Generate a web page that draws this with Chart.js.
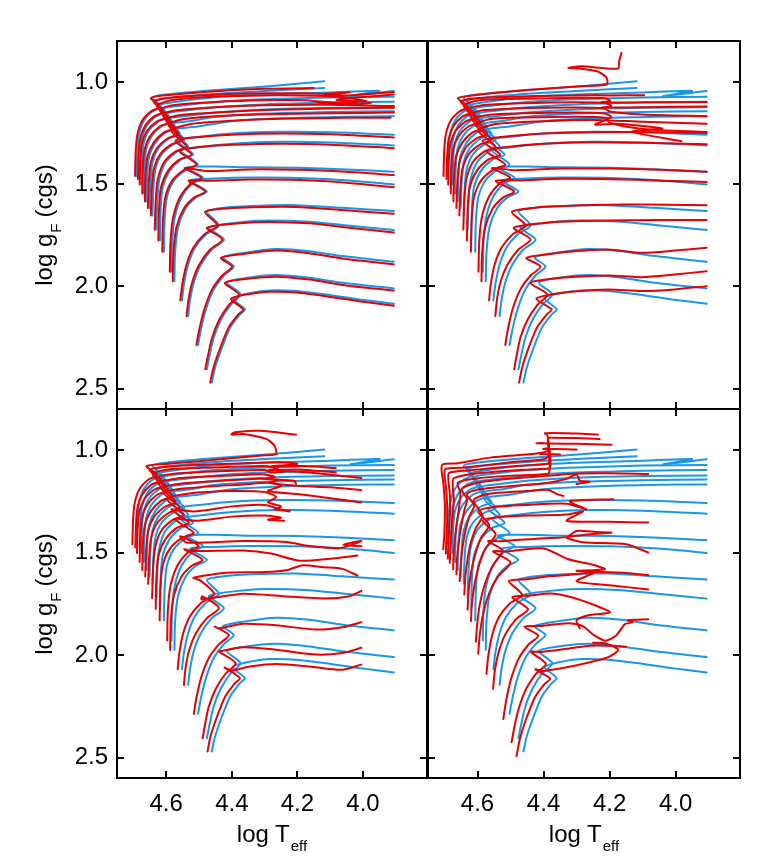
<!DOCTYPE html>
<html><head><meta charset="utf-8">
<script src="https://cdn.jsdelivr.net/npm/chart.js@4.4.0/dist/chart.umd.min.js"></script>
<style>
html,body{margin:0;padding:0;background:#fff;}
#wrap{position:relative;width:779px;height:865px;overflow:hidden;font-family:"Liberation Sans",Arial,Helvetica,sans-serif;background:#fff;}
canvas{position:absolute;left:0;top:0;}
.t{position:absolute;font-size:24px;color:#000;white-space:nowrap;line-height:1;transform:translate(-50%,-50%);}
.t.rot{transform:translate(-50%,-50%) rotate(-90deg);}
.t sub{font-size:15px;vertical-align:baseline;position:relative;top:9px;margin-left:1px;}
.t.rot sub{margin-right:6px;}
</style></head><body>
<div id="wrap">
<canvas id="c0" width="779" height="865"></canvas>
<canvas id="c1" width="779" height="865"></canvas>
<canvas id="c2" width="779" height="865"></canvas>
<canvas id="c3" width="779" height="865"></canvas>
<div class="t rot" style="left:44px;top:225px;">log g<sub>F</sub>(cgs)</div>
<div class="t rot" style="left:44px;top:594px;">log g<sub>F</sub>(cgs)</div>
<div class="t" style="left:272px;top:834px;">log T<sub>eff</sub></div>
<div class="t" style="left:584px;top:834px;">log T<sub>eff</sub></div>
</div>
<script>
// ---- tick values ----
const xTicks = [4.6, 4.4, 4.2, 4.0];
const yTicks = [1.0, 1.5, 2.0, 2.5];

// ---- blue tracks (same in every panel): flat [logT, logg, ...] ----
const blueTracks = [
[4.690,1.460, 4.688,1.341, 4.683,1.258, 4.668,1.189, 4.642,1.145, 4.615,1.121, 4.642,1.077, 4.603,1.062, 4.436,1.038, 4.285,1.021, 4.118,0.997],
[4.681,1.475, 4.679,1.360, 4.674,1.277, 4.659,1.214, 4.633,1.170, 4.603,1.145, 4.633,1.096, 4.582,1.077, 4.436,1.057, 4.285,1.043, 4.118,1.030],
[4.676,1.502, 4.674,1.385, 4.669,1.302, 4.653,1.238, 4.624,1.194, 4.591,1.170, 4.624,1.116, 4.564,1.096, 4.450,1.075, 4.300,1.062, 4.100,1.052, 3.950,1.044, 4.038,1.070, 3.906,1.045],
[4.668,1.546, 4.666,1.419, 4.661,1.331, 4.645,1.267, 4.615,1.218, 4.582,1.194, 4.615,1.135, 4.552,1.116, 4.450,1.098, 4.300,1.085, 4.100,1.076, 3.906,1.073],
[4.660,1.585, 4.658,1.458, 4.652,1.365, 4.633,1.297, 4.603,1.248, 4.570,1.223, 4.606,1.160, 4.539,1.140, 4.450,1.124, 4.300,1.110, 4.100,1.101, 3.906,1.097],
[4.651,1.617, 4.648,1.492, 4.642,1.394, 4.624,1.326, 4.591,1.277, 4.558,1.253, 4.597,1.184, 4.527,1.165, 4.450,1.150, 4.300,1.135, 4.100,1.127, 3.906,1.124],
[4.642,1.653, 4.639,1.526, 4.633,1.429, 4.614,1.355, 4.579,1.306, 4.545,1.282, 4.588,1.209, 4.515,1.189, 4.450,1.170, 4.300,1.155, 4.100,1.147, 3.906,1.144],
[4.630,1.722, 4.627,1.580, 4.621,1.478, 4.602,1.394, 4.567,1.341, 4.533,1.316, 4.579,1.238, 4.503,1.218, 4.400,1.192, 4.250,1.178, 4.050,1.170, 3.906,1.168],
[4.619,1.776, 4.617,1.629, 4.611,1.517, 4.589,1.434, 4.555,1.380, 4.518,1.355, 4.567,1.287, 4.491,1.267, 4.400,1.252, 4.250,1.244, 4.100,1.246, 3.906,1.258],
[4.607,1.831, 4.605,1.683, 4.598,1.565, 4.576,1.482, 4.539,1.429, 4.503,1.404, 4.555,1.336, 4.479,1.316, 4.400,1.302, 4.250,1.293, 4.100,1.296, 3.906,1.311],
[4.584,1.929, 4.582,1.785, 4.574,1.663, 4.552,1.561, 4.520,1.497, 4.488,1.468, 4.539,1.419, 4.461,1.414, 4.350,1.418, 4.200,1.420, 4.050,1.428, 3.906,1.440],
[4.575,1.975, 4.573,1.839, 4.564,1.712, 4.541,1.619, 4.509,1.565, 4.476,1.536, 4.527,1.482, 4.452,1.473, 4.345,1.468, 4.194,1.470, 4.042,1.482, 3.906,1.502],
[4.552,2.069, 4.546,1.990, 4.533,1.893, 4.512,1.810, 4.479,1.746, 4.439,1.702, 4.476,1.634, 4.400,1.612, 4.300,1.605, 4.204,1.603, 4.063,1.616, 3.906,1.632],
[4.533,2.146, 4.527,2.064, 4.515,1.976, 4.494,1.893, 4.461,1.820, 4.424,1.771, 4.470,1.712, 4.360,1.684, 4.285,1.678, 4.164,1.684, 4.063,1.700, 3.906,1.725],
[4.503,2.287, 4.494,2.210, 4.479,2.113, 4.455,2.015, 4.424,1.947, 4.394,1.903, 4.427,1.859, 4.360,1.836, 4.265,1.818, 4.164,1.828, 4.063,1.852, 3.906,1.880],
[4.476,2.406, 4.467,2.333, 4.455,2.250, 4.433,2.162, 4.403,2.089, 4.373,2.040, 4.415,1.981, 4.340,1.955, 4.265,1.945, 4.164,1.958, 4.063,1.982, 3.906,2.010],
[4.461,2.471, 4.451,2.398, 4.430,2.300, 4.405,2.202, 4.375,2.137, 4.360,2.113, 4.397,2.059, 4.340,2.031, 4.285,2.020, 4.204,2.023, 4.113,2.040, 4.012,2.064, 3.906,2.085]
];

// ---- red main-sequence parts (ZAMS ... hook) ----
const redMS_TL = [
[4.695,1.460, 4.693,1.341, 4.688,1.258, 4.673,1.189, 4.647,1.145, 4.620,1.121, 4.647,1.079],
[4.686,1.475, 4.684,1.360, 4.679,1.277, 4.664,1.214, 4.638,1.170, 4.608,1.145, 4.638,1.098],
[4.681,1.502, 4.679,1.385, 4.674,1.302, 4.658,1.238, 4.629,1.194, 4.596,1.170, 4.629,1.118],
[4.673,1.546, 4.671,1.419, 4.666,1.331, 4.650,1.267, 4.620,1.218, 4.587,1.194, 4.620,1.137],
[4.665,1.585, 4.663,1.458, 4.657,1.365, 4.638,1.297, 4.608,1.248, 4.575,1.223, 4.611,1.162],
[4.656,1.617, 4.653,1.492, 4.647,1.394, 4.629,1.326, 4.596,1.277, 4.563,1.253, 4.602,1.186],
[4.647,1.653, 4.644,1.526, 4.638,1.429, 4.619,1.355, 4.584,1.306, 4.550,1.282, 4.593,1.211],
[4.635,1.722, 4.632,1.580, 4.626,1.478, 4.607,1.394, 4.572,1.341, 4.538,1.316, 4.584,1.240],
[4.624,1.776, 4.622,1.629, 4.616,1.517, 4.594,1.434, 4.560,1.380, 4.523,1.355, 4.572,1.289],
[4.612,1.831, 4.610,1.683, 4.603,1.565, 4.581,1.482, 4.544,1.429, 4.508,1.404, 4.560,1.338],
[4.589,1.929, 4.587,1.785, 4.579,1.663, 4.557,1.561, 4.525,1.497, 4.493,1.468, 4.544,1.421],
[4.580,1.975, 4.578,1.839, 4.569,1.712, 4.546,1.619, 4.514,1.565, 4.481,1.536, 4.532,1.484],
[4.557,2.069, 4.551,1.990, 4.538,1.893, 4.517,1.810, 4.484,1.746, 4.444,1.702, 4.482,1.636],
[4.538,2.146, 4.532,2.064, 4.520,1.976, 4.499,1.893, 4.466,1.820, 4.429,1.771, 4.476,1.714],
[4.508,2.287, 4.499,2.210, 4.484,2.113, 4.460,2.015, 4.429,1.947, 4.399,1.903, 4.433,1.861],
[4.481,2.406, 4.472,2.333, 4.460,2.250, 4.438,2.162, 4.408,2.089, 4.378,2.040, 4.421,1.983],
[4.466,2.471, 4.456,2.398, 4.435,2.300, 4.410,2.202, 4.380,2.137, 4.365,2.113, 4.403,2.061]
];
const redMS_A = [ // top-right and bottom-left panels
[4.703,1.460, 4.701,1.341, 4.696,1.258, 4.681,1.189, 4.655,1.145, 4.628,1.121, 4.660,1.079],
[4.694,1.475, 4.692,1.360, 4.687,1.277, 4.672,1.214, 4.646,1.170, 4.616,1.145, 4.651,1.098],
[4.689,1.502, 4.687,1.385, 4.682,1.302, 4.666,1.238, 4.637,1.194, 4.604,1.170, 4.642,1.118],
[4.681,1.546, 4.679,1.419, 4.674,1.331, 4.658,1.267, 4.628,1.218, 4.595,1.194, 4.633,1.137],
[4.673,1.585, 4.671,1.458, 4.665,1.365, 4.646,1.297, 4.616,1.248, 4.583,1.223, 4.624,1.162],
[4.664,1.617, 4.661,1.492, 4.655,1.394, 4.637,1.326, 4.604,1.277, 4.571,1.253, 4.615,1.186],
[4.655,1.653, 4.652,1.526, 4.646,1.429, 4.627,1.355, 4.592,1.306, 4.558,1.282, 4.606,1.211],
[4.643,1.722, 4.640,1.580, 4.634,1.478, 4.615,1.394, 4.580,1.341, 4.546,1.316, 4.597,1.240],
[4.632,1.776, 4.630,1.629, 4.624,1.517, 4.602,1.434, 4.568,1.380, 4.531,1.355, 4.585,1.289],
[4.620,1.831, 4.618,1.683, 4.611,1.565, 4.589,1.482, 4.552,1.429, 4.516,1.404, 4.573,1.338],
[4.597,1.929, 4.595,1.785, 4.587,1.663, 4.565,1.561, 4.533,1.497, 4.501,1.468, 4.557,1.421],
[4.588,1.975, 4.586,1.839, 4.577,1.712, 4.554,1.619, 4.522,1.565, 4.489,1.536, 4.545,1.484],
[4.565,2.069, 4.560,1.990, 4.548,1.893, 4.527,1.810, 4.494,1.746, 4.454,1.702, 4.496,1.636],
[4.546,2.146, 4.541,2.064, 4.530,1.976, 4.509,1.893, 4.476,1.820, 4.439,1.771, 4.490,1.714],
[4.516,2.287, 4.508,2.210, 4.494,2.113, 4.470,2.015, 4.439,1.947, 4.409,1.903, 4.452,1.861],
[4.489,2.406, 4.481,2.333, 4.470,2.250, 4.448,2.162, 4.418,2.089, 4.388,2.040, 4.440,1.983],
[4.474,2.471, 4.465,2.398, 4.445,2.300, 4.420,2.202, 4.390,2.137, 4.375,2.113, 4.422,2.061]
];
const redMS_BR = [
[4.704,1.484, 4.701,1.427, 4.699,1.330, 4.699,1.264, 4.703,1.170, 4.709,1.095, 4.705,1.070],
[4.696,1.505, 4.694,1.430, 4.692,1.340, 4.692,1.270, 4.695,1.190, 4.700,1.120, 4.697,1.092],
[4.690,1.530, 4.688,1.450, 4.685,1.360, 4.683,1.280, 4.684,1.210, 4.688,1.150, 4.686,1.112],
[4.684,1.550, 4.682,1.470, 4.678,1.380, 4.674,1.300, 4.672,1.235, 4.675,1.180, 4.672,1.138],
[4.674,1.582, 4.672,1.500, 4.667,1.410, 4.660,1.330, 4.655,1.265, 4.652,1.210, 4.660,1.160],
[4.664,1.607, 4.662,1.530, 4.656,1.440, 4.648,1.360, 4.640,1.295, 4.632,1.240, 4.648,1.190],
[4.654,1.639, 4.651,1.560, 4.645,1.470, 4.636,1.390, 4.625,1.325, 4.610,1.270, 4.632,1.215],
[4.640,1.705, 4.637,1.620, 4.630,1.530, 4.620,1.450, 4.605,1.380, 4.585,1.320, 4.612,1.245],
[4.630,1.778, 4.627,1.690, 4.620,1.600, 4.607,1.510, 4.590,1.430, 4.565,1.365, 4.598,1.300],
[4.620,1.835, 4.617,1.750, 4.609,1.655, 4.595,1.560, 4.575,1.478, 4.545,1.410, 4.585,1.345],
[4.605,1.935, 4.601,1.850, 4.593,1.752, 4.578,1.655, 4.555,1.567, 4.525,1.490, 4.568,1.445],
[4.598,1.994, 4.593,1.900, 4.583,1.800, 4.565,1.700, 4.538,1.618, 4.500,1.548, 4.553,1.495],
[4.573,2.092, 4.567,2.000, 4.555,1.900, 4.535,1.815, 4.503,1.750, 4.465,1.706, 4.505,1.640],
[4.553,2.165, 4.547,2.070, 4.535,1.980, 4.515,1.897, 4.483,1.825, 4.447,1.776, 4.495,1.718],
[4.522,2.312, 4.513,2.220, 4.499,2.120, 4.476,2.020, 4.446,1.950, 4.416,1.906, 4.458,1.862],
[4.497,2.426, 4.487,2.340, 4.474,2.255, 4.453,2.166, 4.423,2.092, 4.393,2.043, 4.438,1.985],
[4.482,2.494, 4.471,2.405, 4.451,2.305, 4.426,2.206, 4.396,2.140, 4.380,2.115, 4.425,2.070]
];

// ---- red post-main-sequence parts (after the hook) ----
const redTail_TL = [
[4.605,1.066, 4.436,1.044, 4.300,1.034, 4.150,1.030],
[4.592,1.078, 4.436,1.062, 4.300,1.056, 4.200,1.056, 4.120,1.058, 4.040,1.052, 4.120,1.068, 4.050,1.066, 3.906,1.049],
[4.585,1.090, 4.450,1.072, 4.300,1.066, 4.150,1.068, 4.050,1.078, 3.990,1.095, 4.080,1.088, 3.906,1.062],
[4.575,1.113, 4.450,1.098, 4.300,1.090, 4.180,1.090, 4.100,1.100, 4.020,1.104, 4.140,1.100, 4.040,1.112, 3.975,1.102],
[4.565,1.138, 4.450,1.124, 4.300,1.114, 4.100,1.112, 3.906,1.118],
[4.555,1.162, 4.450,1.150, 4.300,1.138, 4.100,1.130, 3.906,1.127],
[4.545,1.182, 4.450,1.168, 4.300,1.158, 4.100,1.154, 3.906,1.150],
[4.525,1.206, 4.400,1.190, 4.250,1.180, 4.050,1.176, 3.916,1.176],
[4.515,1.272, 4.400,1.258, 4.250,1.252, 4.100,1.256, 3.906,1.272],
[4.505,1.320, 4.400,1.308, 4.250,1.302, 4.100,1.307, 3.906,1.324],
[4.475,1.436, 4.350,1.428, 4.200,1.430, 4.050,1.440, 3.906,1.456],
[4.465,1.484, 4.345,1.478, 4.194,1.480, 4.042,1.494, 3.906,1.515],
[4.405,1.618, 4.300,1.612, 4.204,1.612, 4.063,1.627, 3.906,1.645],
[4.365,1.690, 4.285,1.685, 4.164,1.692, 4.063,1.710, 3.906,1.737],
[4.365,1.842, 4.265,1.825, 4.164,1.838, 4.063,1.864, 3.906,1.893],
[4.345,1.962, 4.265,1.953, 4.164,1.967, 4.063,1.993, 3.906,2.021],
[4.345,2.037, 4.285,2.027, 4.204,2.030, 4.113,2.048, 4.012,2.073, 3.906,2.095]
];
const redTail_TR = [
[4.615,1.066, 4.450,1.040, 4.300,1.022, 4.209,1.013, 4.209,0.980, 4.235,0.950, 4.290,0.935, 4.325,0.932, 4.285,0.924, 4.174,0.935, 4.171,0.899, 4.164,0.858],
[4.600,1.079, 4.450,1.070, 4.300,1.066, 4.200,1.066, 4.095,1.065],
[4.595,1.090, 4.450,1.082, 4.300,1.078, 4.215,1.080, 4.198,1.093, 4.225,1.100, 4.100,1.100, 3.906,1.098],
[4.590,1.115, 4.450,1.104, 4.300,1.100, 4.212,1.104, 4.195,1.118, 4.222,1.125, 4.090,1.124, 3.906,1.120],
[4.580,1.138, 4.450,1.128, 4.300,1.125, 4.215,1.130, 4.200,1.145, 4.100,1.160, 3.906,1.168],
[4.570,1.162, 4.450,1.153, 4.300,1.150, 4.215,1.155, 4.195,1.172, 4.244,1.209, 4.180,1.205, 4.040,1.228, 4.131,1.244, 3.982,1.290],
[4.560,1.182, 4.450,1.174, 4.300,1.170, 4.210,1.176, 4.200,1.200, 4.100,1.230, 3.906,1.245],
[4.545,1.206, 4.400,1.192, 4.250,1.186, 4.100,1.195, 3.906,1.205],
[4.520,1.268, 4.400,1.252, 4.250,1.246, 4.100,1.245, 3.906,1.250],
[4.510,1.318, 4.400,1.302, 4.250,1.295, 4.100,1.298, 3.906,1.305],
[4.490,1.432, 4.350,1.424, 4.200,1.424, 4.050,1.430, 3.906,1.440],
[4.470,1.482, 4.345,1.474, 4.194,1.476, 4.042,1.483, 3.906,1.490],
[4.420,1.614, 4.356,1.608, 4.250,1.602, 4.154,1.600, 4.030,1.601, 3.906,1.603],
[4.400,1.690, 4.356,1.684, 4.204,1.678, 4.053,1.676, 3.906,1.676],
[4.380,1.842, 4.325,1.831, 4.204,1.820, 4.103,1.836, 4.002,1.825, 3.906,1.811],
[4.370,1.962, 4.325,1.955, 4.204,1.947, 4.103,1.955, 4.002,1.942, 3.906,1.926],
[4.365,2.036, 4.315,2.026, 4.204,2.015, 4.103,2.023, 4.002,2.015, 3.906,1.999]
];
const redTail_BL = [
[4.600,1.068, 4.500,1.055, 4.400,1.040, 4.300,1.026, 4.265,1.020, 4.270,0.979, 4.295,0.946, 4.366,0.922, 4.401,0.925, 4.391,0.913, 4.315,0.906, 4.204,0.925],
[4.600,1.082, 4.450,1.070, 4.320,1.062, 4.250,1.060, 4.200,1.068, 4.280,1.080, 4.180,1.078, 4.083,1.088],
[4.590,1.094, 4.450,1.085, 4.300,1.078, 4.260,1.090, 4.290,1.100, 4.200,1.095, 4.083,1.109],
[4.580,1.117, 4.450,1.105, 4.300,1.098, 4.280,1.110, 4.230,1.104, 4.150,1.112, 4.005,1.137],
[4.570,1.140, 4.450,1.128, 4.310,1.118, 4.270,1.130, 4.295,1.142, 4.210,1.150, 4.204,1.166],
[4.560,1.165, 4.450,1.152, 4.320,1.140, 4.260,1.145, 4.285,1.160, 4.200,1.175, 4.100,1.182, 4.005,1.196],
[4.548,1.188, 4.366,1.168, 4.285,1.160, 4.250,1.175, 4.290,1.200, 4.200,1.215, 4.100,1.235, 4.005,1.256],
[4.530,1.212, 4.400,1.200, 4.300,1.205, 4.265,1.230, 4.290,1.255, 4.250,1.275, 4.270,1.290, 4.224,1.297],
[4.517,1.300, 4.400,1.275, 4.300,1.268, 4.250,1.290, 4.224,1.300],
[4.505,1.345, 4.400,1.325, 4.300,1.320, 4.250,1.330, 4.290,1.340, 4.240,1.345],
[4.537,1.452, 4.366,1.444, 4.234,1.449, 4.164,1.468, 4.073,1.479, 4.005,1.444, 4.060,1.462, 4.005,1.470],
[4.522,1.493, 4.366,1.490, 4.280,1.505, 4.194,1.540, 4.100,1.530, 4.017,1.515],
[4.517,1.623, 4.416,1.599, 4.300,1.595, 4.230,1.585, 4.184,1.562, 4.120,1.572, 4.063,1.580, 4.017,1.612],
[4.492,1.729, 4.366,1.701, 4.244,1.713, 4.113,1.724, 4.042,1.713, 4.005,1.688],
[4.440,1.870, 4.366,1.848, 4.265,1.855, 4.143,1.876, 4.063,1.865, 4.005,1.840],
[4.436,1.982, 4.366,1.962, 4.265,1.974, 4.143,1.998, 4.063,1.990, 4.005,1.965],
[4.400,2.075, 4.345,2.056, 4.265,2.044, 4.164,2.056, 4.063,2.072, 4.005,2.047]
];
const redTail_BR = [
[4.659,1.065, 4.558,1.036, 4.416,1.016, 4.385,1.000, 4.388,0.930, 4.396,0.918, 4.300,0.920, 4.235,0.925],
[4.640,1.085, 4.500,1.060, 4.400,1.045, 4.385,1.030, 4.387,0.945, 4.380,0.940, 4.300,0.942, 4.230,0.946],
[4.630,1.100, 4.500,1.080, 4.400,1.070, 4.383,1.060, 4.386,0.972, 4.421,0.967, 4.300,0.970, 4.194,0.974],
[4.620,1.118, 4.500,1.100, 4.400,1.092, 4.380,1.085, 4.384,0.995, 4.401,0.995, 4.330,0.996, 4.300,0.998],
[4.610,1.140, 4.500,1.125, 4.400,1.120, 4.383,1.110, 4.385,1.025, 4.410,1.020, 4.350,1.022],
[4.600,1.160, 4.500,1.140, 4.380,1.125, 4.300,1.115, 4.200,1.113, 4.083,1.117],
[4.590,1.190, 4.450,1.170, 4.385,1.160, 4.330,1.140, 4.300,1.120, 4.290,1.150, 4.260,1.155, 4.300,1.166],
[4.570,1.215, 4.450,1.200, 4.385,1.195, 4.360,1.215, 4.340,1.224],
[4.560,1.280, 4.450,1.268, 4.330,1.262, 4.270,1.290, 4.320,1.250, 4.189,1.240],
[4.550,1.330, 4.450,1.320, 4.330,1.315, 4.280,1.300, 4.330,1.345, 4.200,1.350, 4.083,1.354],
[4.530,1.445, 4.400,1.430, 4.330,1.425, 4.300,1.395, 4.240,1.400, 4.194,1.403, 4.250,1.410, 4.330,1.427, 4.280,1.450, 4.150,1.460, 4.083,1.500],
[4.510,1.495, 4.400,1.480, 4.325,1.533, 4.250,1.560, 4.214,1.582, 4.300,1.590, 4.150,1.600, 4.083,1.610],
[4.450,1.630, 4.380,1.615, 4.330,1.610, 4.250,1.600, 4.300,1.640, 4.200,1.660, 4.083,1.680],
[4.440,1.710, 4.380,1.700, 4.315,1.718, 4.240,1.760, 4.199,1.792, 4.260,1.805, 4.300,1.830, 4.290,1.870],
[4.406,1.858, 4.325,1.845, 4.280,1.860, 4.250,1.900, 4.214,1.930, 4.180,1.905, 4.154,1.850, 4.130,1.840, 4.145,1.830, 4.083,1.826],
[4.406,1.985, 4.330,1.970, 4.260,1.955, 4.204,1.955, 4.150,1.960],
[4.400,2.078, 4.330,2.060, 4.260,2.035, 4.204,2.010, 4.174,1.975, 4.209,1.945, 4.250,1.940]
];

// ---- helpers ----
function toPts(flat){ const o=[]; for(let i=0;i<flat.length;i+=2) o.push({x:flat[i],y:flat[i+1]}); return o; }
const FONT = '"Liberation Sans", Arial, Helvetica, sans-serif';
const BLUE = 'rgb(24,150,232)';
const RED = 'rgb(232,0,0)';

const framePlugin = {
  id:'frame',
  afterDraw(chart){
    const {ctx, chartArea:a} = chart;
    const x = chart.scales.x, y = chart.scales.y;
    ctx.save();
    ctx.strokeStyle = '#000';
    ctx.lineWidth = 2;
    ctx.strokeRect(a.left, a.top, a.right-a.left, a.bottom-a.top);
    const L = 7;
    ctx.beginPath();
    xTicks.forEach(v=>{ const p = Math.round(x.getPixelForValue(v));
      ctx.moveTo(p,a.bottom); ctx.lineTo(p,a.bottom-L);
      ctx.moveTo(p,a.top); ctx.lineTo(p,a.top+L); });
    yTicks.forEach(v=>{ const p = Math.round(y.getPixelForValue(v));
      ctx.moveTo(a.left,p); ctx.lineTo(a.left+L,p);
      ctx.moveTo(a.right,p); ctx.lineTo(a.right-L,p); });
    ctx.stroke();
    ctx.restore();
  }
};

const panels = [
  {id:'c0', ms:redMS_TL, tail:redTail_TL, showX:false, showY:true,  pad:{left:0,   top:41,  right:352, bottom:456}},
  {id:'c1', ms:redMS_A,  tail:redTail_TR, showX:false, showY:false, pad:{left:428, top:41,  right:39,  bottom:456}},
  {id:'c2', ms:redMS_A,  tail:redTail_BL, showX:true,  showY:true,  pad:{left:0,   top:409, right:352, bottom:0}},
  {id:'c3', ms:redMS_BR, tail:redTail_BR, showX:true,  showY:false, pad:{left:428, top:409, right:39,  bottom:0}}
];

panels.forEach(p=>{
  const datasets = [];
  p.ms.forEach((m,i)=>{
    datasets.push({data: toPts(m.concat(p.tail[i])), borderColor:RED, borderWidth:2, order:0});
  });
  blueTracks.forEach(b=>{
    datasets.push({data: toPts(b), borderColor:BLUE, borderWidth:2, order:1});
  });
  new Chart(document.getElementById(p.id), {
    type:'scatter',
    data:{datasets},
    options:{
      responsive:false, animation:false, devicePixelRatio:1, events:[],
      layout:{padding:p.pad},
      elements:{point:{radius:0}, line:{tension:0.25, borderCapStyle:'round', borderJoinStyle:'round'}},
      datasets:{scatter:{showLine:true, pointRadius:0}},
      plugins:{legend:{display:false}, tooltip:{enabled:false}},
      scales:{
        x:{type:'linear', reverse:true, min:3.805, max:4.75,
           grid:{display:false, drawTicks:false}, border:{display:false},
           afterBuildTicks:s=>{ s.ticks = xTicks.map(v=>({value:v})); },
           afterFit:s=>{ s.height = p.showX ? 87 : 0; },
           ticks:{display:p.showX, padding:12, color:'#000', maxRotation:0, autoSkip:false,
                  font:{family:FONT, size:24}, callback:v=>Number(v).toFixed(1)}},
        y:{type:'linear', reverse:true, min:0.8, max:2.6,
           grid:{display:false, drawTicks:false}, border:{display:false},
           afterBuildTicks:s=>{ s.ticks = yTicks.map(v=>({value:v})); },
           afterFit:s=>{ s.width = p.showY ? 117 : 0; },
           ticks:{display:p.showY, padding:9, color:'#000', autoSkip:false,
                  font:{family:FONT, size:24}, callback:v=>Number(v).toFixed(1)}}
      }
    },
    plugins:[framePlugin]
  });
});
</script>
</body></html>
